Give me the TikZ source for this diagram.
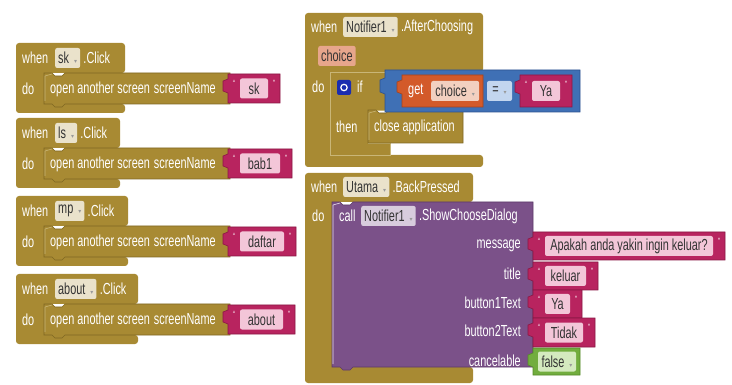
\documentclass[tikz,border=0pt]{standalone}
\usepackage{fontspec}
\setmainfont{Liberation Sans}[FakeStretch=0.68]
\newfontfamily\symfont{DejaVu Sans}
\newcommand\fnt{\fontsize{16}{16}\selectfont}
\newcommand\dd{\hspace{5pt}{\symfont\fontsize{6}{6}\selectfont\color{black!40}▾}}
\definecolor{evtc}{HTML}{A88A33}
\definecolor{evtd}{HTML}{7F6722}
\definecolor{evtl}{HTML}{C9B677}
\definecolor{evtf}{HTML}{EAE2CB}
\definecolor{strc}{HTML}{B8245F}
\definecolor{strd}{HTML}{8A1744}
\definecolor{strf}{HTML}{F3C6D8}
\definecolor{purc}{HTML}{7B5189}
\definecolor{purd}{HTML}{5C3A68}
\definecolor{purf}{HTML}{D8CCDD}
\definecolor{bluec}{HTML}{3F70B5}
\definecolor{blued}{HTML}{2C5190}
\definecolor{bluef}{HTML}{C3D6EF}
\definecolor{orc}{HTML}{D35A2A}
\definecolor{ord}{HTML}{A5421C}
\definecolor{orf}{HTML}{F2D0C0}
\definecolor{parf}{HTML}{E7A68C}
\definecolor{grc}{HTML}{72AD3E}
\definecolor{grd}{HTML}{558A2A}
\definecolor{grf}{HTML}{D4EABF}
\definecolor{gearc}{HTML}{1A2CB0}
\usetikzlibrary{positioning}
\tikzset{
  txt/.style={text=white, font=\fnt, inner sep=0pt, anchor=west},
  rtxt/.style={text=white, font=\fnt, inner sep=0pt, anchor=east},
  fld/.style={fill=#1, rounded corners=2pt, text=black!80, font=\fnt, inner ysep=1.5pt, inner xsep=3pt, minimum height=20pt, anchor=west},
  cfld/.style={fill=#1, rounded corners=2pt, text=black!80, font=\fnt, inner sep=1.5pt, minimum height=20pt},
  qt/.style={text=white, font=\fontsize{9}{9}\selectfont, inner sep=0pt},
}
% string block: #1 id, #2 x1, #3 y1, #4 x2, #5 y2, #6 text
\newcommand\strblk[6]{%
  \pgfmathsetmacro\sxa{#2}\pgfmathsetmacro\sya{#3}%
  \pgfmathsetmacro\sxb{#4}\pgfmathsetmacro\syb{#5}%
  \pgfmathsetmacro\sw{\sxb-\sxa-24}%
  \pgfmathsetmacro\sxm{(\sxa+\sxb)/2}\pgfmathsetmacro\sym{(\sya+\syb)/2}%
  \pgfmathsetmacro\sxt{\sxa-5}%
  \pgfmathsetmacro\syp{\sya+5}\pgfmathsetmacro\syq{\sya+7}%
  \pgfmathsetmacro\syr{\sya+17}\pgfmathsetmacro\sys{\sya+19}%
  \pgfmathsetmacro\sql{\sxa+6}\pgfmathsetmacro\sqr{\sxb-6}\pgfmathsetmacro\sqy{\sya+9}%
  \fill[strc, draw=strd, line width=0.6pt] (\sxa,\sya) -- (\sxb,\sya) -- (\sxb,\syb) -- (\sxa,\syb) -- (\sxa,\sys) -- (\sxt,\syr) -- (\sxt,\syq) -- (\sxa,\syp) -- cycle;
  \node[cfld=strf, minimum width=\sw pt] (#1) at (\sxm,\sym) {#6};
  \node[qt] (#1ql) at (\sql,\sqy) {\textquotedblleft};
  \node[qt] (#1qr) at (\sqr,\sqy) {\textquotedblright};
}
% left event block: #1 id, #2 top, #3 header right, #4 field text, #5 string right, #6 string text
\newcommand\leftblk[6]{%
  \pgfmathsetmacro\ta{#2+30}\pgfmathsetmacro\tb{#2+61}\pgfmathsetmacro\tc{#2+70}%
  \pgfmathsetmacro\td{#2+33}\pgfmathsetmacro\te{#2+64}\pgfmathsetmacro\tf{#2+58}%
  \pgfmathsetmacro\tg{#2+31}\pgfmathsetmacro\th{#2+15}\pgfmathsetmacro\ti{#2+46}%
  \pgfmathsetmacro\tj{#2+60}%
  \fill[evtc, rounded corners=3pt] (16,#2) -- (#3,#2) -- (#3,\ta) -- (45,\ta) -- (45,\tb) -- (#3,\tb) -- (#3,\tc) -- (16,\tc) -- cycle;
  \fill[evtc, draw=evtd, line width=0.6pt] (44,\ta) -- (52,\ta) -- (55,\td) -- (62,\td) -- (65,\ta) -- (230,\ta) -- (230,\tb) -- (65,\tb) -- (62,\te) -- (55,\te) -- (52,\tb) -- (44,\tb) -- cycle;
  \draw[evtl, line width=0.6pt] (45,\tf) -- (45,\td) -- (52,\tg);
  \node[txt] (#1w) at (22,\th) {when};
  \node[fld=evtf] (#1f) at (55,\th) {#4\dd};
  \node[txt, right=3pt of #1f] (#1c) {.Click};
  \node[txt] (#1d) at (22,\ti) {do};
  \node[txt] (#1o) at (50,\ti) {open another screen\hspace{4pt}screenName};
  \strblk{#1s}{228}{\tg}{#5}{\tj}{#6}
}
\begin{document}
\begin{tikzpicture}[x=1pt,y=-1pt]
\useasboundingbox (0,0) rectangle (732,385);
\fill[white] (0,0) rectangle (732,385);

\leftblk{a}{43}{125}{sk}{280}{sk}
\leftblk{b}{118}{120}{ls}{292}{bab1}
\leftblk{c}{196}{128}{mp}{296}{daftar}
\leftblk{d}{274}{138}{about}{295}{about}

% ---------- event A: Notifier1.AfterChoosing ----------
\fill[evtc, rounded corners=3pt] (305,13) -- (483,13) -- (483,72) -- (330,72) -- (330,155) -- (483,155) -- (483,167) -- (305,167) -- cycle;
\node[txt] (aw) at (311,27) {when};
\node[fld=evtf] (af) at (343,27) {Notifier1\dd};
\node[txt, right=3pt of af] (ae) {.AfterChoosing};
\node[fld=parf] (ap) at (318,56) {choice};
\node[txt] (ad) at (312,87) {do};
% if block
\fill[evtc, draw=evtl, line width=0.5pt] (330,72) -- (386,72) -- (386,110) -- (368,110) -- (368,143) -- (390,143) -- (390,155) -- (330,155) -- cycle;
\fill[gearc, rounded corners=2pt] (337,80) rectangle (351,95);
\draw[white, line width=1.2pt] (344,87.5) circle (3.2);
\node[txt] (aif) at (357,87) {if};
\node[txt] (ath) at (336,127) {then};
\fill[evtc, draw=evtd, line width=0.6pt] (368,110) -- (376,110) -- (379,113) -- (386,113) -- (389,110) -- (463,110) -- (463,143) -- (368,143) -- cycle;
\draw[evtl, line width=0.6pt] (369,140) -- (369,113) -- (376,111);
\node[txt] (acl) at (374,127) {close application};
% compare block
\fill[bluec, draw=blued, line width=0.6pt] (385,70) -- (580,70) -- (580,112) -- (385,112) -- (385,94) -- (380,92) -- (380,80) -- (385,78) -- cycle;
\fill[orc, draw=ord, line width=0.6pt] (402,75) -- (483,75) -- (483,107) -- (402,107) -- (402,94) -- (397,92) -- (397,82) -- (402,80) -- cycle;
\node[txt] (ag) at (408,91) {get};
\node[fld=orf, minimum width=48pt] (agc) at (431,91) {choice\dd};
\node[cfld=bluef, minimum width=25pt] (aeq) at (499.5,91) {=\dd};
\strblk{ays}{520}{75}{572}{107}{Ya}

% ---------- event B: Utama.BackPressed ----------
\fill[evtc, rounded corners=3pt] (305,173) -- (473,173) -- (473,202) -- (332,202) -- (332,367) -- (473,367) -- (473,383) -- (305,383) -- cycle;
\node[txt] (bw) at (311,187) {when};
\node[fld=evtf] (bf) at (343,187) {Utama\dd};
\node[txt, right=3pt of bf] (be) {.BackPressed};
\node[txt] (bd) at (312,216) {do};
\fill[purc, draw=purd, line width=0.6pt] (332,202) -- (340,202) -- (343,205) -- (350,205) -- (353,202) -- (533,202) -- (533,367) -- (353,367) -- (350,370) -- (343,370) -- (340,367) -- (332,367) -- cycle;
\draw[white!85!purc, line width=0.6pt] (333,364) -- (333,205) -- (340,203);
\node[txt] (bc) at (339,216) {call};
\node[fld=purf] (bn) at (361,216) {Notifier1\dd};
\node[txt, right=3pt of bn] (bs) {.ShowChooseDialog};
\node[rtxt] (lm) at (521,246) {message};
\node[rtxt] (lt) at (521,274) {title};
\node[rtxt] (l1) at (521,303) {button1Text};
\node[rtxt] (l2) at (521,331) {button2Text};
\node[rtxt] (lc) at (521,361) {cancelable};
\strblk{sm}{533}{232}{725}{260}{Apakah anda yakin ingin keluar?}
\strblk{st}{533}{262}{598}{290}{keluar}
\strblk{sy}{533}{290}{582}{318}{Ya}
\strblk{sd}{533}{318}{595}{347}{Tidak}
\fill[grc, draw=grd, line width=0.6pt] (533,348) -- (580,348) -- (580,375) -- (533,375) -- (533,367) -- (528,365) -- (528,355) -- (533,353) -- cycle;
\node[cfld=grf, minimum width=38pt] (sf) at (557,361.5) {false\dd};
\end{tikzpicture}
\end{document}
